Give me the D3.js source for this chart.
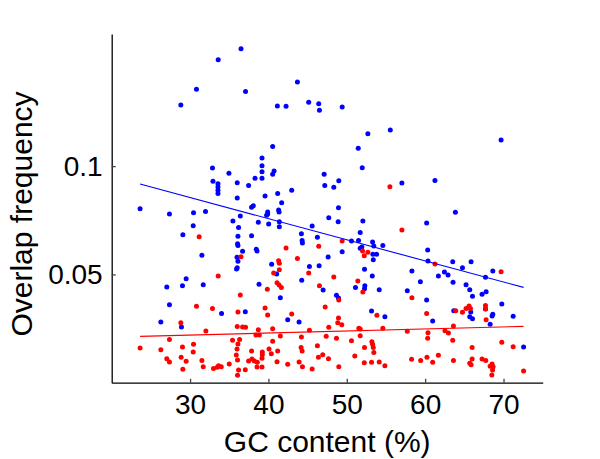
<!DOCTYPE html>
<html>
<head>
<meta charset="utf-8">
<script src="https://cdn.jsdelivr.net/npm/d3@7"></script>
<style>
  body { margin: 0; background: #fff; }
  svg { display: block; font-family: "Liberation Sans", Arial, sans-serif; }
</style>
</head>
<body>
<div id="chart"></div>
<script>
// GC content (%) vs overlap frequency, two groups
const blueX = [36.50,33.59,30.82,28.82,37.08,43.70,41.14,42.25,45.14,46.42,46.51,40.54,39.18,39.18,39.18,39.18,32.86,34.96,40.72,40.54,
  38.29,32.92,33.56,33.56,33.56,33.56,36.02,37.47,36.02,39.57,41.18,42.97,41.69,38.07,37.85,23.62,47.11,47.19,49.41,55.55,
  52.69,51.46,69.69,51.97,48.34,48.98,57.03,61.25,48.94,27.37,30.44,31.97,30.40,29.08,35.47,36.41,36.19,36.11,37.85,38.71,
  36.06,36.11,36.70,38.45,38.54,31.51,35.99,36.11,36.02,35.93,29.50,27.03,29.03,31.68,38.80,39.90,39.90,39.77,41.30,41.36,
  40.03,41.39,41.39,47.70,48.90,45.58,52.05,44.21,46.25,44.30,44.34,51.71,50.60,51.50,53.29,54.60,53.45,51.71,51.92,49.41,
  53.33,53.80,53.38,47.62,40.41,41.05,45.23,46.47,52.26,53.25,44.25,46.98,51.11,52.30,52.26,54.14,48.68,63.86,60.19,60.32,
  60.36,63.52,65.86,64.76,68.63,58.31,62.46,61.69,62.92,67.70,59.39,63.56,65.22,65.69,67.78,67.26,57.72,27.37,26.27,28.90,
  34.02,37.05,41.52,48.94,53.16,54.86,42.46,43.91,60.19,60.96,66.04,69.78,67.70,68.54,68.63,71.23,68.29,63.65,65.82,65.69,
  66.04,72.56];
const blueY = [0.1542,0.1491,0.1355,0.1282,0.1345,0.1388,0.1278,0.1276,0.1295,0.1288,0.1258,0.1091,0.1037,0.1002,0.0974,0.0944,0.0991,0.0967,0.0977,0.0962,
  0.0944,0.0930,0.0919,0.0904,0.0888,0.0873,0.0923,0.0911,0.0853,0.0862,0.0873,0.0888,0.0831,0.0817,0.0810,0.0803,0.0962,0.0911,0.1273,0.1167,
  0.1150,0.1082,0.1121,0.0993,0.0902,0.0933,0.0922,0.0934,0.0808,0.0779,0.0785,0.0790,0.0725,0.0683,0.0747,0.0770,0.0717,0.0676,0.0679,0.0741,
  0.0642,0.0634,0.0607,0.0616,0.0608,0.0588,0.0579,0.0561,0.0531,0.0525,0.0480,0.0442,0.0448,0.0452,0.0454,0.0788,0.0779,0.0773,0.0797,0.0788,
  0.0733,0.0743,0.0720,0.0762,0.0743,0.0723,0.0747,0.0688,0.0671,0.0656,0.0645,0.0694,0.0654,0.0656,0.0650,0.0633,0.0631,0.0621,0.0627,0.0605,
  0.0593,0.0593,0.0568,0.0580,0.0547,0.0502,0.0537,0.0540,0.0524,0.0493,0.0473,0.0428,0.0440,0.0448,0.0434,0.0429,0.0404,0.0787,0.0737,0.0613,
  0.0562,0.0559,0.0559,0.0531,0.0516,0.0516,0.0511,0.0493,0.0497,0.0487,0.0466,0.0464,0.0452,0.0429,0.0420,0.0408,0.0425,0.0360,0.0280,0.0257,
  0.0320,0.0328,0.0392,0.0391,0.0331,0.0305,0.0291,0.0280,0.0382,0.0285,0.0399,0.0363,0.0340,0.0308,0.0316,0.0307,0.0270,0.0332,0.0326,0.0305,
  0.0295,0.0165];

const redX = [55.50,31.16,36.50,33.59,36.41,42.25,46.42,49.41,43.70,41.30,41.39,41.39,40.67,45.14,48.34,41.10,41.36,41.65,39.86,46.51,
  51.41,52.05,52.01,52.69,52.23,57.03,61.25,69.69,30.82,32.86,36.11,28.82,36.02,36.70,37.08,38.71,32.02,38.41,38.84,27.37,
  35.42,36.32,30.44,36.11,23.62,26.27,29.03,35.99,30.40,37.85,35.90,27.03,27.37,28.86,29.50,36.06,31.51,37.47,37.90,38.20,
  38.58,35.00,31.68,33.63,33.98,33.47,32.99,38.54,29.08,36.19,37.05,36.06,39.57,39.90,42.97,47.24,48.98,48.94,48.85,49.36,
  53.84,40.54,45.23,47.70,51.54,51.71,54.60,41.52,44.21,47.37,48.68,51.71,40.54,50.60,53.20,53.29,53.38,53.45,46.25,44.17,
  44.30,40.08,41.18,39.22,39.22,39.18,52.26,40.37,46.93,46.38,51.02,47.66,41.10,43.91,42.46,44.34,45.58,48.98,52.23,53.16,
  54.14,54.86,39.18,58.31,60.19,63.90,64.76,65.22,65.60,65.78,67.70,67.70,67.78,63.61,57.72,60.36,60.32,62.53,62.97,63.52,
  69.78,71.23,65.99,58.27,59.43,60.23,60.96,61.69,63.61,65.99,65.69,65.86,67.26,67.74,68.29,68.54,68.67,68.60,68.51,72.56];
const redY = [0.0905,0.0674,0.0582,0.0493,0.0405,0.0622,0.0630,0.0654,0.0574,0.0563,0.0551,0.0522,0.0506,0.0506,0.0488,0.0462,0.0451,0.0439,0.0431,0.0448,
  0.0470,0.0419,0.0608,0.0602,0.0586,0.0705,0.0548,0.0512,0.0353,0.0343,0.0326,0.0277,0.0260,0.0257,0.0256,0.0245,0.0239,0.0220,0.0220,0.0199,
  0.0196,0.0200,0.0177,0.0179,0.0160,0.0152,0.0165,0.0156,0.0142,0.0146,0.0128,0.0111,0.0096,0.0117,0.0099,0.0105,0.0103,0.0100,0.0109,0.0100,
  0.0094,0.0086,0.0074,0.0078,0.0074,0.0071,0.0065,0.0072,0.0062,0.0059,0.0060,0.0034,0.0345,0.0313,0.0317,0.0350,0.0382,0.0299,0.0277,0.0268,
  0.0311,0.0249,0.0242,0.0256,0.0251,0.0248,0.0251,0.0216,0.0211,0.0214,0.0205,0.0217,0.0191,0.0194,0.0189,0.0177,0.0162,0.0140,0.0171,0.0163,
  0.0146,0.0156,0.0146,0.0142,0.0129,0.0113,0.0163,0.0134,0.0129,0.0117,0.0123,0.0111,0.0097,0.0096,0.0085,0.0074,0.0063,0.0074,0.0092,0.0094,
  0.0096,0.0078,0.0072,0.0392,0.0320,0.0332,0.0325,0.0343,0.0354,0.0343,0.0357,0.0342,0.0291,0.0262,0.0237,0.0231,0.0205,0.0240,0.0229,0.0196,
  0.0187,0.0166,0.0162,0.0108,0.0102,0.0117,0.0094,0.0127,0.0102,0.0109,0.0090,0.0083,0.0109,0.0103,0.0076,0.0086,0.0074,0.0059,0.0036,0.0054];

// fitted lines at both ends
const blueFitX = [23.62, 72.56];
const blueFitY = [0.0917, 0.0440];
const redFitX = [23.62, 72.56];
const redFitY = [0.0214, 0.0260];

const xTicks = [30, 40, 50, 60, 70];
const yTicks = [0.05, 0.1];

const cfg = {
  w: 600, h: 459,
  plotLeft: 111.7, plotRight: 542.7, plotTop: 34, plotBottom: 382.7,
  dotRadius: 2.5,
  tickFont: "28px",
  titleFont: "30px"
};

const svg = d3.select("#chart").append("svg")
    .attr("width", cfg.w)
    .attr("height", cfg.h);

const x = d3.scaleLinear().domain([20, 75]).range([cfg.plotLeft, cfg.plotRight]);
const y = d3.scaleLinear().domain([0, 0.161]).range([cfg.plotBottom, cfg.plotTop]);

//points
const addPoints = function(xs, ys, color) {
  svg.append("g").selectAll("circle")
    .data(d3.zip(xs, ys))
    .enter().append("circle")
      .attr("cx", d => x(d[0]))
      .attr("cy", d => y(d[1]))
      .attr("r", cfg.dotRadius)
      .style("fill", color);
};
addPoints(blueX, blueY, "#0000ff");
addPoints(redX, redY, "#ff0000");

//fit lines
const line = d3.line().x(d => x(d[0])).y(d => y(d[1]));
svg.append("path")
    .attr("d", line(d3.zip(blueFitX, blueFitY)))
    .style("fill", "none").style("stroke", "#0000ff").style("stroke-width", 1.1);
svg.append("path")
    .attr("d", line(d3.zip(redFitX, redFitY)))
    .style("fill", "none").style("stroke", "#ff0000").style("stroke-width", 1.1);

//axes, ticks pointing inward
const xAxis = svg.append("g")
    .attr("transform", "translate(0," + cfg.plotBottom + ")")
    .call(d3.axisBottom(x).tickValues(xTicks).tickSizeInner(-4).tickSizeOuter(0).tickPadding(11));
const yAxis = svg.append("g")
    .attr("transform", "translate(" + cfg.plotLeft + ",0)")
    .call(d3.axisLeft(y).tickValues(yTicks).tickFormat(d3.format("")).tickSizeInner(-4).tickSizeOuter(0).tickPadding(9));

[xAxis, yAxis].forEach(function(a) {
  a.select(".domain").style("stroke", "#000").style("stroke-width", 1.3);
  a.selectAll(".tick line").style("stroke", "#444").style("stroke-width", 1.3);
  a.selectAll(".tick text")
    .style("font-size", cfg.tickFont)
    .style("font-family", "'Liberation Sans', Arial, sans-serif")
    .style("fill", "#000");
});

//axis titles
svg.append("text")
    .attr("x", (cfg.plotLeft + cfg.plotRight) / 2)
    .attr("y", 452)
    .attr("text-anchor", "middle")
    .style("font-size", cfg.titleFont)
    .text("GC content (%)");

svg.append("text")
    .attr("transform", "translate(32,214) rotate(-90)")
    .attr("text-anchor", "middle")
    .style("font-size", cfg.titleFont)
    .text("Overlap frequency");
</script>
</body>
</html>
